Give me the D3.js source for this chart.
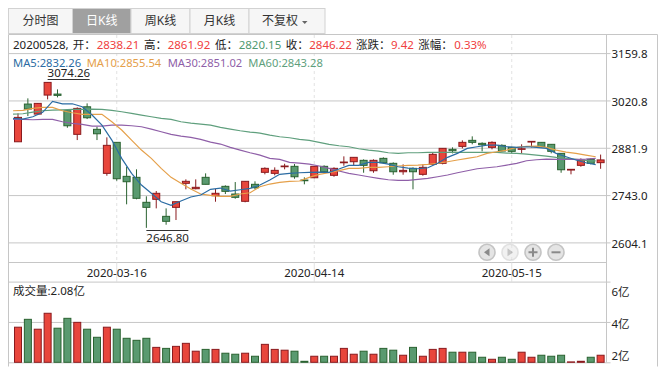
<!DOCTYPE html>
<html>
<head>
<meta charset="utf-8">
<script src="https://cdn.jsdelivr.net/npm/d3@7"></script>
<style>
  html, body { margin: 0; padding: 0; background: #fff; }
  svg { display: block; }
  text { font-family: "Noto Sans", "Noto Sans CJK SC", sans-serif; font-size: 11.5px; fill: #222; }
  .tab { font-size: 12px; }
</style>
</head>
<body>
<svg id="chart" width="669" height="374"></svg>
<script>
const dates = [
  '2020-03-02', '2020-03-03', '2020-03-04', '2020-03-05', '2020-03-06', '2020-03-09', '2020-03-10', '2020-03-11', '2020-03-12', '2020-03-13',
  '2020-03-16', '2020-03-17', '2020-03-18', '2020-03-19', '2020-03-20', '2020-03-23', '2020-03-24', '2020-03-25', '2020-03-26', '2020-03-27',
  '2020-03-30', '2020-03-31', '2020-04-01', '2020-04-02', '2020-04-03', '2020-04-07', '2020-04-08', '2020-04-09', '2020-04-10', '2020-04-13',
  '2020-04-14', '2020-04-15', '2020-04-16', '2020-04-17', '2020-04-20', '2020-04-21', '2020-04-22', '2020-04-23', '2020-04-24', '2020-04-27',
  '2020-04-28', '2020-04-29', '2020-04-30', '2020-05-06', '2020-05-07', '2020-05-08', '2020-05-11', '2020-05-12', '2020-05-13', '2020-05-14',
  '2020-05-15', '2020-05-18', '2020-05-19', '2020-05-20', '2020-05-21', '2020-05-22', '2020-05-25', '2020-05-26', '2020-05-27', '2020-05-28'
];
const opens = [
  2899.5, 3010.2, 2980.8, 3036.6, 3039.5, 2990.5, 2921.3, 3002.2, 2936, 2806.8,
  2897.8, 2798, 2795.1, 2721.8, 2730.6, 2680.6, 2707, 2777.5, 2761.7, 2795.1,
  2741.1, 2768.7, 2746.1, 2724.7, 2774.6, 2809.8, 2806.8, 2826.2, 2827.4, 2787.2,
  2793.9, 2827.4, 2801, 2837.9, 2840.9, 2845, 2814.5, 2850.8, 2836.2, 2811.5,
  2821.5, 2803.9, 2833.2, 2836.2, 2877.3, 2886, 2903.7, 2894.9, 2883.1, 2889,
  2883.1, 2877.3, 2898.7, 2897.8, 2892, 2865.5, 2816.5, 2830.3, 2847.9, 2838.21
];
const highs = [
  2982.9, 3026.9, 3013.1, 3074.26, 3053.3, 2990.5, 3000.5, 3012.2, 2943.6, 2912.5,
  2897.8, 2826.2, 2818.6, 2739.4, 2754.9, 2704, 2723.5, 2789.2, 2789.2, 2806.8,
  2760.8, 2771.6, 2781.3, 2783.4, 2783.4, 2824.4, 2824.4, 2835, 2834.1, 2795.1,
  2827.4, 2830.3, 2824.4, 2856.7, 2853.8, 2847.9, 2847.9, 2853.8, 2839.1, 2833.2,
  2824.4, 2833.2, 2868.5, 2880.2, 2883.1, 2903.7, 2915.4, 2897.8, 2900.7, 2892,
  2884.9, 2892, 2900.7, 2897.8, 2892, 2865.5, 2818.6, 2850.8, 2850.8, 2861.92
];
const lows = [
  2899.5, 2975, 2977.9, 3024, 3029.8, 2940.6, 2904.5, 2966.2, 2904.5, 2799.8,
  2785.1, 2715.9, 2730.6, 2646.8, 2704, 2656, 2669.8, 2759.9, 2760, 2774.6,
  2723.5, 2746.1, 2732.3, 2721.8, 2759.9, 2803.9, 2801, 2818.6, 2791, 2774.6,
  2792.2, 2806.8, 2796.8, 2829.1, 2831.2, 2808.6, 2808.6, 2836.2, 2802.7, 2802.7,
  2759.9, 2799.8, 2830.3, 2833.2, 2865.5, 2880.2, 2892, 2871.4, 2877.3, 2871.4,
  2865.5, 2865.5, 2883.1, 2883.1, 2865.5, 2808.6, 2803.9, 2826.2, 2833.2, 2820.15
];
const closes = [
  2971.1, 2995.5, 3012.2, 3073.8, 3035.7, 2946.5, 2997.5, 2970, 2923, 2889,
  2791, 2782.2, 2733.5, 2707, 2748.2, 2666, 2723.5, 2783.4, 2765.8, 2774.6,
  2748.2, 2754, 2736.4, 2783.4, 2764.6, 2821.5, 2815.6, 2828.3, 2796.8, 2785.1,
  2827.4, 2811.5, 2821.5, 2840, 2853.8, 2830.3, 2845, 2837.9, 2811.5, 2815.6,
  2811.5, 2824.4, 2862.6, 2880.2, 2873.2, 2897.8, 2897.8, 2890.8, 2897.8, 2872.3,
  2871.4, 2879, 2900.7, 2884.9, 2871.4, 2817.4, 2818.6, 2845.9, 2836.2, 2846.22
];
const ma5 = [
  2968.2, 2966.2, 2972.9, 2985.8, 3018.1, 3011, 3011, 3002.2, 2977.9, 2948.6,
  2904.5, 2850.8, 2806.8, 2772.5, 2748.2, 2723.5, 2712.9, 2725.6, 2737.3, 2743.2,
  2759.9, 2763.7, 2754.9, 2758.7, 2762.8, 2772.5, 2787.2, 2803.9, 2806.8, 2808.6,
  2809.8, 2810.6, 2809.8, 2819.5, 2830.3, 2830.3, 2839.1, 2839.1, 2834.1, 2826.2,
  2822.4, 2820.3, 2823.3, 2836.2, 2853.8, 2865.5, 2880.2, 2884.9, 2889.9, 2889.9,
  2884.9, 2883.1, 2884.9, 2883.1, 2880.2, 2865.5, 2855.5, 2845.9, 2837.9, 2832.26
];
const ma10 = [
  2990.5, 2991.7, 2997.5, 3000.5, 3000.5, 2990.5, 2984.6, 2979.9, 2979.9, 2979.9,
  2958.2, 2933.9, 2904.5, 2875.2, 2850.8, 2821.5, 2795.1, 2777.5, 2760.8, 2746.1,
  2742.3, 2739.3, 2739.3, 2746.1, 2749.9, 2767.5, 2775.4, 2780.4, 2783.4, 2784.3,
  2795.1, 2803.9, 2808.6, 2815, 2821.5, 2821.5, 2824.4, 2824.4, 2826.2, 2828.3,
  2830.3, 2831.2, 2833.2, 2836.2, 2840.9, 2845.9, 2850.8, 2855.5, 2865.5, 2870.2,
  2875.2, 2883.1, 2886, 2886.9, 2883.1, 2875.2, 2869.3, 2865.5, 2860.5, 2855.54
];
const ma30 = [
  2965.3, 2965.3, 2964.1, 2965.3, 2965.3, 2958.2, 2953.5, 2950.6, 2945.6, 2945.6,
  2948.6, 2948.6, 2946.5, 2943.6, 2936.8, 2928.9, 2921.3, 2916.3, 2912.5, 2906.6,
  2898.7, 2892.8, 2883.1, 2875.2, 2867.3, 2860.5, 2850.8, 2847.9, 2839.1, 2837,
  2834.1, 2828.3, 2821.5, 2813.6, 2806.8, 2801.9, 2796.8, 2792.2, 2788, 2786.3,
  2786.3, 2789.2, 2792.2, 2796.8, 2801.9, 2808.6, 2814.5, 2820.3, 2823.3, 2826.2,
  2831.2, 2836.2, 2843.8, 2846.7, 2848.8, 2847.9, 2847.9, 2847.9, 2848.8, 2851.02
];
const ma60 = [
  2980.8, 2981.7, 2986.7, 2990.5, 2992.6, 2993.4, 2994.6, 2994.6, 2995.5, 2994.6,
  2991.7, 2987.6, 2982.9, 2977.9, 2972.9, 2968.2, 2965.3, 2958.2, 2954.4, 2951.5,
  2948.6, 2941.8, 2936.8, 2931.8, 2928, 2925, 2919.2, 2914.2, 2911.3, 2906.6,
  2903.7, 2897.8, 2891.9, 2887.8, 2884.9, 2879, 2875.2, 2872.3, 2867.3, 2865.5,
  2867.3, 2867.3, 2868.5, 2868.5, 2868.5, 2868.5, 2868.5, 2868.5, 2868.5, 2868.5,
  2866.4, 2865.5, 2863.5, 2860.5, 2857.6, 2853.8, 2850.8, 2847.9, 2845, 2843.28
];
// volume in 亿, read against the right hand axis
const volumes = [
  3.74, 4.13, 3.64, 4.43, 3.69, 4.18, 3.98, 3.64, 3.24, 3.74,
  3.64, 3.19, 3.09, 3.19, 2.74, 2.69, 2.79, 2.94, 2.55, 2.64,
  2.64, 2.45, 2.40, 2.45, 2.30, 2.89, 2.64, 2.60, 2.55, 2.05,
  2.30, 2.30, 2.30, 2.69, 2.40, 2.55, 2.40, 2.69, 2.60, 2.35,
  2.74, 2.30, 2.64, 2.69, 2.50, 2.50, 2.50, 2.25, 2.15, 2.25,
  2.15, 2.50, 2.25, 2.35, 2.30, 2.35, 2.02, 2.05, 2.25, 2.35
];
const priceTicks = [2604.1, 2743.0, 2881.9, 3020.8, 3159.8];
const volumeTicks = [2, 4, 6];
const dateTicks = ['2020-03-16', '2020-04-14', '2020-05-15'];
const tabLabels = ['分时图', '日K线', '周K线', '月K线', '不复权'];
const infoLabels = ['开：', '高：', '低：', '收：', '涨跌：', '涨幅：'];
const infoValues = ['2838.21', '2861.92', '2820.15', '2846.22', '9.42', '0.33%'];
const maLabels = ['MA5:2832.26', 'MA10:2855.54', 'MA30:2851.02', 'MA60:2843.28'];

const RED = '#e8463c';
const RED_DARK = '#8a1a1e';
const GREEN = '#5a9a70';
const GREEN_DARK = '#2a6230';
const GRID = '#c6c6c6';
const MA_COLORS = ['#2b6ca3', '#e5a04a', '#8f5fa8', '#5f9f7d'];

const svg = d3.select('#chart');
const left = 8;
const plotRight = 606.5;
const outerRight = 657;

const x = d3.scaleBand().domain(dates).range([13.06, 605.56]);
const y = d3.scaleLinear().domain([2604.1, 3159.8]).range([242.4, 53.1]);
const yVol = d3.scaleLinear().domain([2, 6]).range([362.3, 281.6]);
const center = d => x(d) + x.bandwidth() / 2;

// tabs
const tabEdges = [8.5, 72.5, 131, 190, 249, 325];
const tabs = svg.append('g').selectAll('g').data(tabLabels).join('g');
tabs.append('rect')
  .attr('x', (d, i) => tabEdges[i])
  .attr('y', 8.5)
  .attr('width', (d, i) => tabEdges[i + 1] - tabEdges[i])
  .attr('height', 25)
  .attr('fill', (d, i) => i === 1 ? '#a0a0a0' : '#f6f6f6')
  .attr('stroke', '#d2d2d2');
tabs.append('text')
  .attr('class', 'tab')
  .attr('x', (d, i) => i === 4 ? 280 : (tabEdges[i] + tabEdges[i + 1]) / 2)
  .attr('y', 21)
  .attr('dy', '0.36em')
  .attr('text-anchor', 'middle')
  .style('fill', (d, i) => i === 1 ? '#fff' : '#333')
  .text(d => d);
svg.append('path').attr('d', 'M302,21 L307.5,21 L304.75,24 Z').attr('fill', '#666');

// frame
const frame = svg.append('g').attr('stroke', GRID).attr('fill', 'none');
frame.append('path').attr('d', `M${left + 0.5},366.5 V34.5 H${outerRight + 0.5} V366.5`);
frame.append('path').attr('d', `M${plotRight},34.5 V362.5`);
frame.append('path').attr('d', `M${left},262.5 H${plotRight}`);

// vertical date guides
svg.append('g').selectAll('line').data(dateTicks).join('line')
  .attr('x1', d => center(d)).attr('x2', d => center(d))
  .attr('y1', 35).attr('y2', 262)
  .attr('stroke', '#e2e2e2')
  .attr('stroke-dasharray', '3,3');

// price axis with full width grid lines
const priceAxis = svg.append('g')
  .attr('transform', `translate(${plotRight},0)`)
  .call(d3.axisRight(y).tickValues(priceTicks).tickFormat(d3.format('.1f')).tickSize(4).tickPadding(1));
priceAxis.select('.domain').remove();
priceAxis.selectAll('.tick line').attr('x1', left - plotRight).attr('x2', 4).attr('stroke', GRID);
priceAxis.selectAll('.tick text').attr('dy', '0.42em');

// date axis
const dateAxis = svg.append('g')
  .attr('transform', 'translate(0,262.5)')
  .call(d3.axisBottom(x).tickValues(dateTicks).tickSize(19));
dateAxis.select('.domain').remove();
dateAxis.selectAll('.tick line').attr('stroke', '#e2e2e2');
dateAxis.selectAll('.tick text').attr('y', 10).attr('dy', '0.36em');

// volume axis, the labels sit inside the panel
const volOffsets = [-7, 1, 10];
const volAxis = svg.append('g')
  .attr('transform', `translate(${plotRight},0)`)
  .call(d3.axisRight(yVol).tickValues(volumeTicks).tickFormat(d => d + '亿').tickSize(4).tickPadding(1));
volAxis.select('.domain').remove();
volAxis.selectAll('.tick line').attr('x1', left - plotRight).attr('x2', 4).attr('stroke', GRID);
volAxis.selectAll('.tick text').attr('dy', (d, i) => (volOffsets[i] + 4.4) + 'px');

// info rows
const labelX = [72.7, 144, 215, 285.7, 356, 418.3];
const valueX = [96.7, 167.7, 238.7, 309.3, 391, 454.3];
svg.append('text').attr('x', 13).attr('y', 49).text('20200528,');
svg.append('g').selectAll('text').data(infoLabels).join('text')
  .attr('x', (d, i) => labelX[i])
  .attr('y', 49)
  .text(d => d);
svg.append('g').selectAll('text').data(infoValues).join('text')
  .attr('x', (d, i) => valueX[i])
  .attr('y', 49)
  .style('fill', (d, i) => i === 2 ? '#4f9a70' : '#f04040')
  .text(d => d);
const maX = [13, 86.7, 167.7, 248.3];
svg.append('g').selectAll('text').data(maLabels).join('text')
  .attr('x', (d, i) => maX[i])
  .attr('y', 67)
  .style('font-size', '11.2px')
  .style('fill', (d, i) => MA_COLORS[i])
  .text(d => d);
svg.append('text').attr('x', 13).attr('y', 295).text('成交量:2.08亿');

// candles
const isUp = i => closes[i] >= opens[i];
const candles = svg.append('g').selectAll('g').data(dates).join('g');
candles.append('line')
  .attr('x1', d => center(d)).attr('x2', d => center(d))
  .attr('y1', (d, i) => y(highs[i]))
  .attr('y2', (d, i) => y(lows[i]))
  .attr('stroke', (d, i) => isUp(i) ? RED_DARK : GREEN_DARK);
candles.append('rect')
  .attr('x', d => center(d) - 3.5)
  .attr('width', 7)
  .attr('y', (d, i) => y(Math.max(opens[i], closes[i])))
  .attr('height', (d, i) => Math.abs(y(opens[i]) - y(closes[i])))
  .attr('fill', (d, i) => isUp(i) ? RED : GREEN)
  .attr('stroke', (d, i) => isUp(i) ? RED_DARK : GREEN_DARK);

// moving averages, drawn from the left edge of each band
const maLine = d3.line().x((v, i) => x(dates[i])).y(v => y(v));
svg.append('g').attr('fill', 'none').attr('stroke-width', 1.2)
  .selectAll('path').data([ma60, ma30, ma10, ma5]).join('path')
  .attr('stroke', (d, i) => MA_COLORS[3 - i])
  .attr('d', maLine);

// high and low markers
const markers = [
  { date: dates[lows.indexOf(d3.min(lows))], label: '2646.80', lineY: 230.5, textY: 241.5 },
  { date: dates[highs.indexOf(d3.max(highs))], label: '3074.26', lineY: 79.5, textY: 77 }
];
const marks = svg.append('g').selectAll('g').data(markers).join('g');
marks.append('line')
  .attr('x1', d => center(d.date)).attr('x2', d => center(d.date) + 42)
  .attr('y1', d => d.lineY).attr('y2', d => d.lineY)
  .attr('stroke', '#333');
marks.append('text')
  .attr('x', d => center(d.date))
  .attr('y', d => d.textY)
  .text(d => d.label);

// volume bars
svg.append('g').selectAll('rect').data(dates).join('rect')
  .attr('x', d => center(d) - 3.5)
  .attr('width', 7)
  .attr('y', (d, i) => yVol(volumes[i]))
  .attr('height', (d, i) => yVol(2) - yVol(volumes[i]))
  .attr('fill', (d, i) => isUp(i) ? RED : GREEN)
  .attr('stroke', (d, i) => isUp(i) ? RED_DARK : GREEN_DARK);

// zoom and pan buttons
const buttons = ['left', 'right', 'plus', 'minus'];
const buttonX = d3.scalePoint().domain(buttons).range([487, 556]);
const btn = svg.append('g').selectAll('g').data(buttons).join('g')
  .attr('transform', d => `translate(${buttonX(d)},252.3)`)
  .attr('opacity', d => d === 'right' ? 0.5 : 1);
btn.append('circle').attr('r', 8).attr('fill', '#e4e4e4').attr('stroke', '#c4c4c4').attr('stroke-width', 1.6);
btn.append('path')
  .attr('d', d => ({
    left: 'M2.5,-4 L2.5,4 L-3,0 Z',
    right: 'M-2.5,-4 L-2.5,4 L3,0 Z',
    plus: 'M-4.5,-1 H-1 V-4.5 H1 V-1 H4.5 V1 H1 V4.5 H-1 V1 H-4.5 Z',
    minus: 'M-4.5,-1 H4.5 V1 H-4.5 Z'
  }[d]))
  .attr('fill', '#8a8a8a');
</script>
</body>
</html>
